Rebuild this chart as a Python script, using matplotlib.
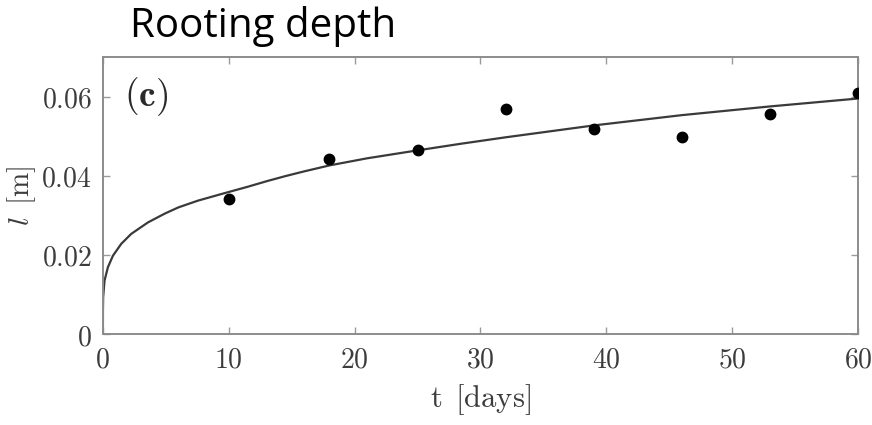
import numpy as np
import matplotlib.pyplot as plt

plt.rcParams['mathtext.fontset'] = 'cm'

# measured root length at each sampling day
t_obs = [10, 18, 25, 32, 39, 46, 53, 60]
l_obs = [0.0342, 0.0441, 0.0464, 0.0569, 0.0518, 0.0499, 0.0556, 0.0608]

# model curve, sampled along t
t_fit = [0.0, 0.005, 0.02, 0.13, 0.40, 0.80, 1.46, 2.25, 3.58, 4.90, 6.0,
         7.55, 9.67, 11.5, 13.0, 14.5, 16.0, 18.0, 21.0, 25.0, 28.5, 32.0,
         35.5, 39.0, 42.5, 46.0, 49.5, 53.0, 56.5, 60.0]
l_fit = [0.0, 0.006, 0.0093, 0.0135, 0.0169, 0.0198, 0.0228, 0.0253, 0.0282,
         0.0304, 0.0320, 0.0337, 0.0356, 0.0372, 0.0386, 0.0399, 0.0411,
         0.0426, 0.0444, 0.0464, 0.0481, 0.0497, 0.0512, 0.0527, 0.0540,
         0.0553, 0.0564, 0.0575, 0.0585, 0.0595]

x_ticks = [0, 10, 20, 30, 40, 50, 60]
y_ticks = [0, 0.02, 0.04, 0.06]
y_tick_labels = ['0', '0.02', '0.04', '0.06']

fig = plt.figure(figsize=(8.72, 4.25), dpi=100)
ax = fig.add_axes([0.118, 0.214, 0.866, 0.652])

ax.plot(t_fit, l_fit, color='#3a3a3a', lw=1.6, zorder=2)
ax.plot(t_obs, l_obs, 'o', color='black', markersize=7.5, zorder=3)

ax.set_xlim(0, 60)
ax.set_ylim(0, 0.07)
ax.set_xticks(x_ticks)
ax.set_xticklabels(['$%d$' % v for v in x_ticks])
ax.set_yticks(y_ticks)
ax.set_yticklabels(['$%s$' % s for s in y_tick_labels])

for side in ax.spines.values():
    side.set_color('#8c8c8c')
    side.set_linewidth(1.4)
ax.tick_params(direction='in', length=5, width=1, color='#9a9a9a',
               top=True, right=True, labelsize=20, labelcolor='#3c3c3c', pad=8)

ax.set_xlabel(r'$\mathrm{t}\ \,[\mathrm{days}]$', fontsize=22, color='#3c3c3c')
ax.xaxis.set_label_coords(0.5, -0.172)
ax.set_ylabel(r'$l\ \,[\mathrm{m}]$', fontsize=21, color='#3c3c3c')
ax.yaxis.set_label_coords(-0.086, 0.5)

ax.text(0.028, 0.856, r'$\mathbf{(c)}$', transform=ax.transAxes, fontsize=27,
        color='#2a2a2a', va='center', ha='left')

fig.text(0.149, 0.913, 'Rooting depth', fontsize=29, family='Open Sans',
         color='black', va='baseline', ha='left')

fig.savefig('out.png', dpi=100)
